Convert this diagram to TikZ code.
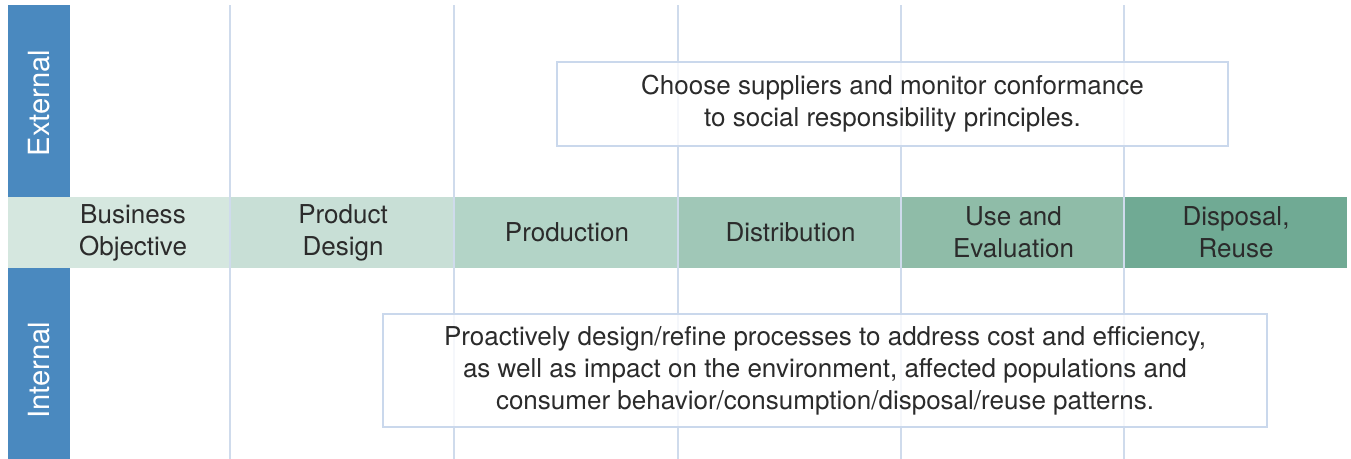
\documentclass[tikz,border=0pt]{standalone}
\usepackage{fontspec}
\setmainfont{TeX Gyre Heros}
\usepackage{xcolor}
\usepackage{tikz}

\definecolor{sideblue}{HTML}{4A89BF}
\definecolor{sepline}{HTML}{CFDBEC}
\definecolor{boxline}{HTML}{CAD8EC}
\definecolor{txtgray}{HTML}{2B2B2B}
\definecolor{stageA}{HTML}{D5E7DF}
\definecolor{stageB}{HTML}{C8DFD6}
\definecolor{stageC}{HTML}{B3D4C7}
\definecolor{stageD}{HTML}{A0C7B7}
\definecolor{stageE}{HTML}{8FBCA8}
\definecolor{stageF}{HTML}{70AA94}

\begin{document}
\begin{tikzpicture}[
        stage/.style={inner sep=0pt, minimum height=0.71cm, align=center,
          text=txtgray, font=\fontsize{7.4}{9.1}\selectfont},
        sep/.style={draw=sepline, line width=0.6pt},
        note/.style={draw=boxline, line width=0.75pt, fill=white,
          fill opacity=0.8, text opacity=1, align=center, text=txtgray,
          inner sep=0pt, font=\fontsize{7.4}{9.1}\selectfont},
        side/.style={text=white, rotate=90, font=\fontsize{8.3}{10}\selectfont}
    ]
        \useasboundingbox (0,0) rectangle (13.51,4.59);

        %% Blue side bar
        \fill [sideblue] (0.08,0) rectangle (0.70,4.54);

        %% The stages
        \node [stage, fill=stageA, minimum width=2.23cm] (bizobj) at (1.195,2.265) {};
        \node [stage, fill=stageB, minimum width=2.24cm] (design) at (3.43,2.265) {Product\\Design};
        \node [stage, fill=stageC, minimum width=2.24cm] (production) at (5.67,2.265) {Production};
        \node [stage, fill=stageD, minimum width=2.23cm] (distribution) at (7.905,2.265) {Distribution};
        \node [stage, fill=stageE, minimum width=2.23cm] (use) at (10.135,2.265) {Use and\\Evaluation};
        \node [stage, fill=stageF, minimum width=2.22cm] (disposal) at (12.36,2.265) {Disposal,\\Reuse};
        \node [stage, anchor=center] (bizlabel) at (1.33,2.265) {Business\\Objective};

        %% Separators
        \draw [sep] (design.west |- 0,0) -- (design.west |- 0,4.54);
        \draw [sep] (production.west |- 0,0) -- (production.west |- 0,4.54);
        \draw [sep] (distribution.west |- 0,0) -- (distribution.west |- 0,4.54);
        \draw [sep] (use.west |- 0,0) -- (use.west |- 0,4.54);
        \draw [sep] (disposal.west |- 0,0) -- (disposal.west |- 0,4.54);

        %% Side labels
        \node [side] (external) at (0.39,3.56) {External};
        \node [side] (internal) at (0.39,0.89) {Internal};

        %% Notes
        \node [note, minimum width=6.71cm, minimum height=0.84cm] (suppliers) at (8.925,3.55)
          {Choose suppliers and monitor conformance\\to social responsibility principles.};
        \node [note, minimum width=8.84cm, minimum height=1.13cm] (processes) at (8.25,0.885)
          {Proactively design/refine processes to address cost and efficiency,\\
           as well as impact on the environment, affected populations and\\
           consumer behavior/consumption/disposal/reuse patterns.};
    \end{tikzpicture}
\end{document}
